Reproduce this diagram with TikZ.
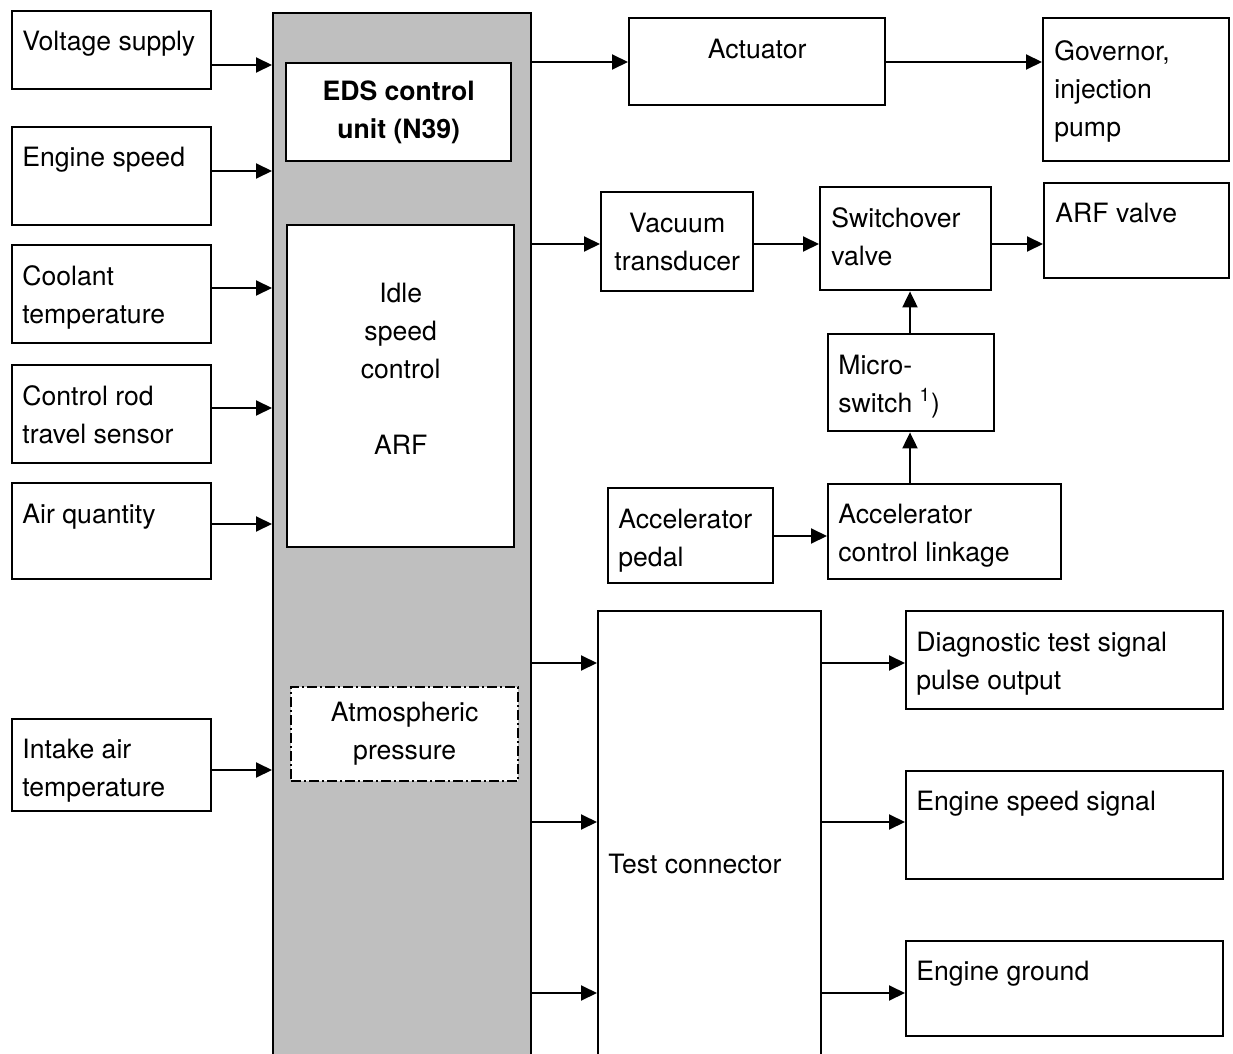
\documentclass[tikz,border=0pt]{standalone}
\usepackage{fontspec}
\setmainfont{TeX Gyre Heros}
\usepackage{tikz}
\usetikzlibrary{arrows.meta,positioning}

\begin{document}
\begin{tikzpicture}[
    x=0.5pt, y=-0.5pt,
    font=\fontsize{13.3}{19}\selectfont,
    box/.style={draw, rectangle, line width=1.2pt, fill=white, anchor=north west, inner sep=0pt, align=center},
    lbl/.style={anchor=base west, inner sep=0pt, align=left},
    clbl/.style={anchor=base, inner sep=0pt, align=center},
    column/.style={draw, rectangle, line width=1.2pt, fill=gray!50, anchor=north west},
    arrow/.style={-{Triangle[length=8pt,width=7.5pt]}, line width=1pt}
]
\clip (0,0) rectangle (1233,1054);

% inputs (label shift = baseline of last line)
\node[box, minimum width=99.5pt, minimum height=39pt] (volt) at (11,10) {};
\node[lbl] (volt-t) at ([shift={(11,41)}]volt.north west) {Voltage supply};
\node[box, minimum width=99.5pt, minimum height=49pt] (spd) at (11,126) {};
\node[lbl] (spd-t) at ([shift={(11,41)}]spd.north west) {Engine speed};
\node[box, minimum width=99.5pt, minimum height=49pt] (cool) at (11,244) {};
\node[lbl] (cool-t) at ([shift={(11,79)}]cool.north west) {Coolant\\temperature};
\node[box, minimum width=99.5pt, minimum height=49pt] (rod) at (11,364) {};
\node[lbl] (rod-t) at ([shift={(11,79)}]rod.north west) {Control rod\\travel sensor};
\node[box, minimum width=99.5pt, minimum height=48pt] (air) at (11,482) {};
\node[lbl] (air-t) at ([shift={(11,41)}]air.north west) {Air quantity};
\node[box, minimum width=99.5pt, minimum height=46pt] (intake) at (11,718) {};
\node[lbl] (intake-t) at ([shift={(11,78)}]intake.north west) {Intake air\\temperature};

% control unit column
\node[column, minimum width=129pt, minimum height=529pt] (col) at (272,12) {};
\node[box, minimum width=112.5pt, minimum height=49pt, font=\fontsize{13.3}{19}\selectfont\bfseries] (eds) at (285,62) {EDS control\\unit (N39)};
\node[box, minimum width=113.5pt, minimum height=161pt] (idle) at (286,224) {};
\node[clbl] (idle-t) at ([shift={(0,230)}]idle.north) {Idle\\speed\\control\\[19pt]ARF};
\node[box, minimum width=113.5pt, minimum height=47pt, dash pattern=on 5pt off 1.5pt on 1pt off 1.5pt] (atm) at (290,686) {Atmospheric\\pressure};

% outputs
\node[box, minimum width=128pt, minimum height=43.5pt] (act) at (628,17) {};
\node[clbl] (act-t) at ([shift={(0,42)}]act.north) {Actuator};
\node[box, minimum width=93pt, minimum height=71.5pt] (gov) at (1042,17) {};
\node[lbl] (gov-t) at ([shift={(12,120)}]gov.north west) {Governor,\\injection\\pump};
\node[box, minimum width=76pt, minimum height=49.5pt] (vac) at (600,191) {Vacuum\\transducer};
\node[box, minimum width=85.5pt, minimum height=51.5pt] (sw) at (819,186) {};
\node[lbl] (sw-t) at ([shift={(12,79)}]sw.north west) {Switchover\\valve};
\node[box, minimum width=92.5pt, minimum height=47.5pt] (arf) at (1043,182) {};
\node[lbl] (arf-t) at ([shift={(12,40)}]arf.north west) {ARF valve};
\node[box, minimum width=83pt, minimum height=48.5pt] (micro) at (827,333) {};
\node[lbl] (micro-t) at ([shift={(11,79)}]micro.north west) {Micro-\\switch \textsuperscript{1})};
\node[box, minimum width=116.5pt, minimum height=47.5pt] (link) at (827,483) {};
\node[lbl] (link-t) at ([shift={(11,78)}]link.north west) {Accelerator\\control linkage};
\node[box, minimum width=82.5pt, minimum height=47.5pt] (pedal) at (607,487) {};
\node[lbl] (pedal-t) at ([shift={(11,79)}]pedal.north west) {Accelerator\\pedal};

% test connector
\node[box, minimum width=111.5pt, minimum height=230pt] (test) at (597,610) {};
\node[lbl] (test-t) at ([shift={(11,263)}]test.north west) {Test connector};
\node[box, minimum width=158.5pt, minimum height=49pt] (diag) at (905,610) {};
\node[lbl] (diag-t) at ([shift={(11,79)}]diag.north west) {Diagnostic test signal\\pulse output};
\node[box, minimum width=158.5pt, minimum height=54pt] (sig) at (905,770) {};
\node[lbl] (sig-t) at ([shift={(11,40)}]sig.north west) {Engine speed signal};
\node[box, minimum width=158.5pt, minimum height=47.5pt] (gnd) at (905,940) {};
\node[lbl] (gnd-t) at ([shift={(11,40)}]gnd.north west) {Engine ground};

% connections
\draw[arrow] (volt.east |- 0,65) -- (col.west |- 0,65);
\draw[arrow] (spd.east |- 0,171) -- (col.west |- 0,171);
\draw[arrow] (cool.east |- 0,288) -- (col.west |- 0,288);
\draw[arrow] (rod.east |- 0,408) -- (col.west |- 0,408);
\draw[arrow] (air.east |- 0,524) -- (col.west |- 0,524);
\draw[arrow] (intake.east |- 0,770) -- (col.west |- 0,770);

\draw[arrow] (col.east |- 0,62) -- (act.west |- 0,62);
\draw[arrow] (act.east |- 0,62) -- (gov.west |- 0,62);
\draw[arrow] (col.east |- 0,244) -- (vac.west |- 0,244);
\draw[arrow] (vac.east |- 0,244) -- (sw.west |- 0,244);
\draw[arrow] (sw.east |- 0,244) -- (arf.west |- 0,244);
\draw[arrow] (micro.north -| 910,0) -- (sw.south -| 910,0);
\draw[arrow] (link.north -| 910,0) -- (micro.south -| 910,0);
\draw[arrow] (pedal.east |- 0,536) -- (link.west |- 0,536);

\draw[arrow] (col.east |- 0,663) -- (test.west |- 0,663);
\draw[arrow] (col.east |- 0,822) -- (test.west |- 0,822);
\draw[arrow] (col.east |- 0,993) -- (test.west |- 0,993);
\draw[arrow] (test.east |- 0,663) -- (diag.west |- 0,663);
\draw[arrow] (test.east |- 0,822) -- (sig.west |- 0,822);
\draw[arrow] (test.east |- 0,993) -- (gnd.west |- 0,993);

\end{tikzpicture}
\end{document}
